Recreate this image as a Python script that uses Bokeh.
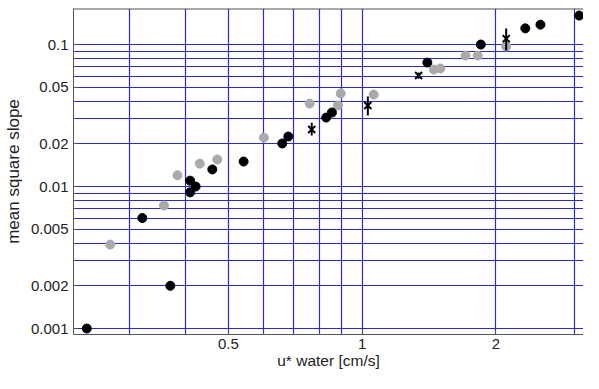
from bokeh.plotting import figure
from bokeh.models import FixedTicker, CustomJSTickFormatter, Range1d, Span
from bokeh.embed import file_html
from bokeh.resources import INLINE

# ---- data ----
black_x = [0.240, 0.370, 0.320, 0.410, 0.422, 0.410, 0.460, 0.541, 0.661, 0.682,
           0.830, 0.855, 1.402, 1.85, 2.33, 2.52, 3.08]
black_y = [0.0010, 0.0020, 0.0060, 0.0110, 0.0100, 0.0091, 0.0132, 0.0150, 0.0201, 0.0225,
           0.0306, 0.0332, 0.0747, 0.100, 0.130, 0.138, 0.160]

gray_x = [0.271, 0.358, 0.384, 0.431, 0.472, 0.601, 0.762, 0.882, 0.895, 1.062,
          1.45, 1.50, 1.71, 1.82, 2.11]
gray_y = [0.0039, 0.00735, 0.0120, 0.0145, 0.0155, 0.0221, 0.0384, 0.0372, 0.0452, 0.0444,
          0.0667, 0.0678, 0.0836, 0.0836, 0.0968]

star_x = [0.770, 1.03, 1.34, 2.11]
star_y = [0.0252, 0.0372, 0.0605, 0.110]
star_lo = [0.0229, 0.0316, 0.0575, 0.0907]
star_hi = [0.0281, 0.0430, 0.0635, 0.1297]

x_major = [0.5, 1, 2]
x_minor = [0.3, 0.4, 0.6, 0.7, 0.8, 0.9, 3]
y_major = [0.001, 0.002, 0.005, 0.01, 0.02, 0.05, 0.1]
y_minor = [0.003, 0.004, 0.006, 0.007, 0.008, 0.009,
           0.03, 0.04, 0.06, 0.07, 0.08, 0.09]

x_start, x_end = 0.224, 3.15
y_start, y_end = 0.000908, 0.1794

FONT = "Liberation Sans"
GRID = "#2a2ad0"
AXC = "#555555"

p = figure(width=583, height=373, x_axis_type="log", y_axis_type="log",
           output_backend="svg", toolbar_location=None,
           x_range=Range1d(x_start, x_end), y_range=Range1d(y_start, y_end),
           min_border_left=73, min_border_right=0, min_border_top=8,
           min_border_bottom=39)
p.outline_line_color = None
p.background_fill_color = "white"
p.border_fill_color = "white"

fmt = CustomJSTickFormatter(code="return tick.toString();")

p.xaxis.ticker = FixedTicker(ticks=x_major, minor_ticks=x_minor)
p.yaxis.ticker = FixedTicker(ticks=y_major, minor_ticks=y_minor)
p.xaxis.formatter = fmt
p.yaxis.formatter = fmt

for ax in (p.xaxis[0], p.yaxis[0]):
    ax.axis_line_color = AXC
    ax.major_tick_line_color = AXC
    ax.minor_tick_line_color = AXC
    ax.major_tick_in = 4
    ax.major_tick_out = 0
    ax.minor_tick_in = 2
    ax.minor_tick_out = 0
    ax.major_label_text_font = FONT
    ax.major_label_text_font_size = "15px"
    ax.major_label_text_color = "#222222"
    ax.axis_label_text_font = FONT
    ax.axis_label_text_font_style = "normal"
    ax.axis_label_text_color = "#222222"

p.xaxis.axis_label = "u* water [cm/s]"
p.xaxis.axis_label_text_font_size = "15.5px"
p.xaxis.major_label_standoff = 4
p.xaxis.axis_label_standoff = 0
p.yaxis.axis_label = "mean square slope"
p.yaxis.axis_label_text_font_size = "17px"
p.yaxis.major_label_standoff = 5
p.yaxis.axis_label_standoff = 5

for g in (p.xgrid[0], p.ygrid[0]):
    g.grid_line_color = GRID
    g.grid_line_width = 1.2
    g.minor_grid_line_color = GRID
    g.minor_grid_line_width = 1.2

p.add_layout(Span(location=y_end, dimension="width", line_color=AXC, line_width=2))

p.scatter(gray_x, gray_y, size=9, marker="circle", fill_color="#aaaaaa", line_color="#aaaaaa")
p.scatter(black_x, black_y, size=9, marker="circle", fill_color="black", line_color="black")
p.segment(x0=star_x, y0=star_lo, x1=star_x, y1=star_hi, line_color="black", line_width=2)
p.scatter(star_x, star_y, size=10, marker="x", line_color="black", line_width=2)

open("out.html", "w").write(file_html(p, INLINE))
